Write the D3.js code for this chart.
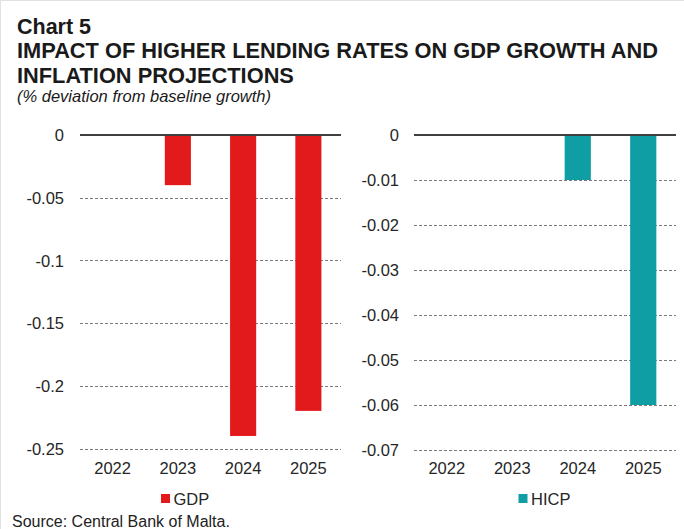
<!DOCTYPE html>
<html>
<head>
<meta charset="utf-8">
<script src="https://cdn.jsdelivr.net/npm/d3@7"></script>
<style>
  html, body { margin: 0; padding: 0; background: #fff; }
  svg { display: block; font-family: "Liberation Sans", Arial, sans-serif; }
</style>
</head>
<body>
<svg id="chart" width="684" height="529"></svg>
<script>
// Data
var years = ["2022", "2023", "2024", "2025"];
var gdpValues = [0, -0.04, -0.24, -0.22];
var hicpValues = [0, 0, -0.01, -0.06];
var gdpTicks = [0, -0.05, -0.1, -0.15, -0.2, -0.25];
var hicpTicks = [0, -0.01, -0.02, -0.03, -0.04, -0.05, -0.06, -0.07];

var svg = d3.select("#chart");

// Light frame on left and top
svg.append("line")
  .attr("x1", 0.5).attr("x2", 0.5).attr("y1", 0).attr("y2", 529)
  .style("stroke", "#e2e2e2")
  ;
svg.append("line")
  .attr("x1", 0).attr("x2", 684).attr("y1", 0.5).attr("y2", 0.5)
  .style("stroke", "#e2e2e2")
  ;

// Titles
var titles = [
  { text: "Chart 5", y: 34, size: 21.5, weight: "bold", style: "normal" },
  { text: "IMPACT OF HIGHER LENDING RATES ON GDP GROWTH AND", y: 58.3, size: 21.8, weight: "bold", style: "normal" },
  { text: "INFLATION PROJECTIONS", y: 82.5, size: 21.8, weight: "bold", style: "normal" },
  { text: "(% deviation from baseline growth)", y: 101.5, size: 16.5, weight: "normal", style: "italic" }
];
titles.forEach(function(t) {
  svg.append("text")
    .attr("x", 17)
    .attr("y", t.y)
    .style("font-size", t.size + "px")
    .style("font-weight", t.weight)
    .style("font-style", t.style)
    .style("fill", "#1a1a1a")
    .text(t.text)
    ;
});

// Source
svg.append("text")
  .attr("x", 12)
  .attr("y", 527)
  .style("font-size", "16px")
  .style("fill", "#222")
  .text("Source: Central Bank of Malta.")
  ;

function panel(o) {
  var g = svg.append("g");

  var x = d3.scaleBand()
    .domain(years)
    .range([o.x0, o.x1])
    .paddingInner(0.6)
    .paddingOuter(0.3)
    ;

  var y = d3.scaleLinear()
    .domain([0, o.ticks[o.ticks.length - 1]])
    .range([o.y0, o.y1])
    ;

  // Dashed gridlines
  g.selectAll("line.grid")
    .data(o.ticks.slice(1))
    .enter().append("line")
      .attr("class", "grid")
      .attr("x1", o.x0)
      .attr("x2", o.x1)
      .attr("y1", function(d) { return Math.round(y(d)) + 0.5; })
      .attr("y2", function(d) { return Math.round(y(d)) + 0.5; })
      .style("stroke", "#7a7a7a")
      .style("stroke-width", 1)
      .style("stroke-dasharray", "3,2")
      ;

  // Y tick labels
  var yAxis = g.append("g")
    .attr("transform", "translate(" + o.labelX + ",0)")
    .call(d3.axisLeft(y).tickValues(o.ticks).tickSize(0).tickPadding(0)
      .tickFormat(function(d) { return d3.format("")(d).replace("−", "-"); }))
    ;
  yAxis.select(".domain").remove();
  yAxis.selectAll("text")
    .attr("dy", "0.35em")
    .style("font-family", "'Liberation Sans', Arial, sans-serif")
    .style("font-size", "16.5px")
    .style("fill", "#262626")
    ;

  // Bars
  g.selectAll("rect.bar")
    .data(o.values.map(function(v, i) { return { year: years[i], value: v }; })
      .filter(function(d) { return d.value !== 0; }))
    .enter().append("rect")
      .attr("class", "bar")
      .attr("x", function(d) { return x(d.year); })
      .attr("width", x.bandwidth())
      .attr("y", y(0))
      .attr("height", function(d) { return y(d.value) - y(0); })
      .style("fill", o.color)
      ;

  // Zero line
  g.append("line")
    .attr("x1", o.x0)
    .attr("x2", o.x1)
    .attr("y1", y(0))
    .attr("y2", y(0))
    .style("stroke", "#404040")
    .style("stroke-width", 2)
    ;

  // X labels
  var xAxis = g.append("g")
    .attr("transform", "translate(0," + o.xLabelY + ")")
    .call(d3.axisBottom(x).tickSize(0).tickPadding(0))
    ;
  xAxis.select(".domain").remove();
  xAxis.selectAll("text")
    .attr("dy", 0)
    .style("font-family", "'Liberation Sans', Arial, sans-serif")
    .style("font-size", "16.5px")
    .style("fill", "#262626")
    ;

  // Legend
  var lg = g.append("g")
    .attr("transform", "translate(" + o.legendX + ",494)")
    ;
  lg.append("rect")
    .attr("x", 0)
    .attr("y", 0)
    .attr("width", 9)
    .attr("height", 9)
    .style("fill", o.color)
    ;
  lg.append("text")
    .attr("x", 12.5)
    .attr("y", 10.5)
    .style("font-size", "16.5px")
    .style("fill", "#262626")
    .text(o.label)
    ;
}

panel({
  x0: 80, x1: 341, y0: 135, y1: 448.5,
  labelX: 64,
  ticks: gdpTicks,
  values: gdpValues,
  color: "#e31a1c",
  xLabelY: 474,
  legendX: 161,
  label: "GDP"
});

panel({
  x0: 414, x1: 676, y0: 135, y1: 450,
  labelX: 399,
  ticks: hicpTicks,
  values: hicpValues,
  color: "#0f9ea4",
  xLabelY: 474,
  legendX: 518.5,
  label: "HICP"
});
</script>
</body>
</html>
